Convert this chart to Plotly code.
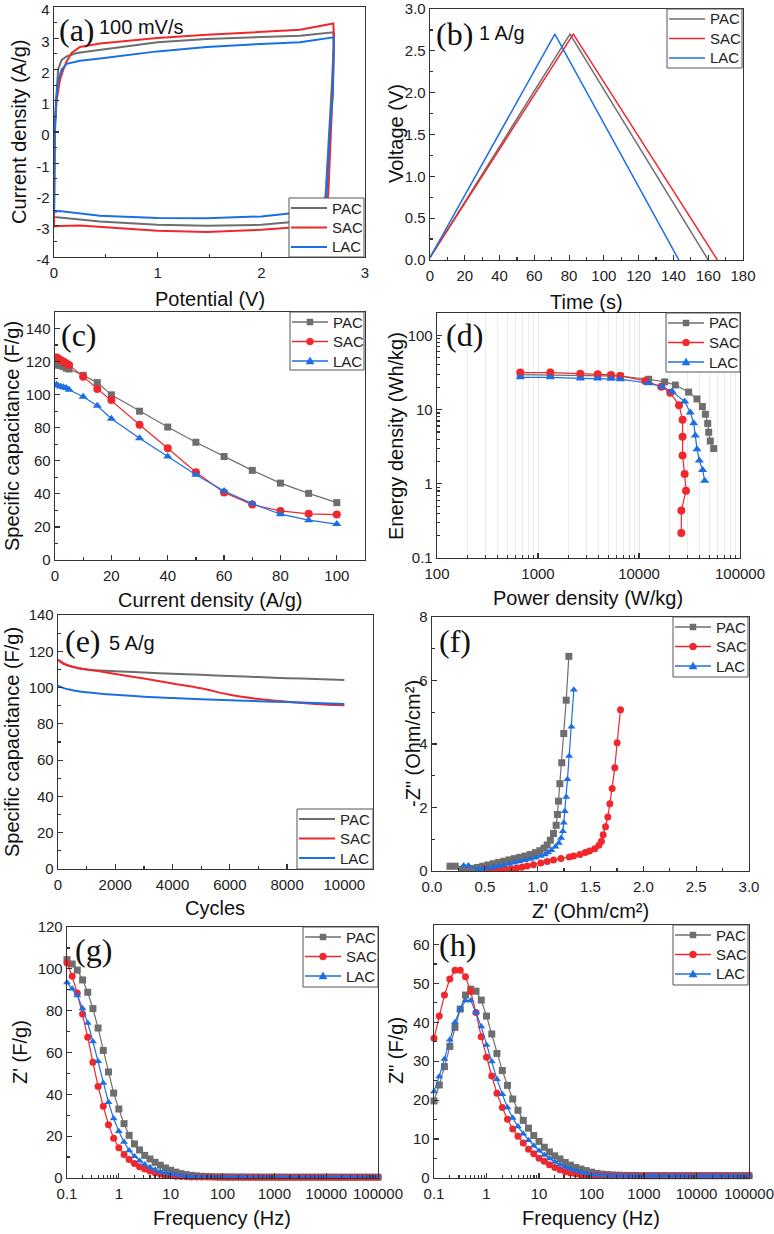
import plotly.graph_objects as go

W, H = 774, 1234
GRAY, RED, BLUE = "#6e6e6e", "#f0282d", "#1c6fe3"
NAMES = ["PAC", "SAC", "LAC"]

# ---------------- (a) CV at 100 mV/s ----------------
pac_cv_v = [0.0, 0.003, 0.01, 0.02, 0.04, 0.074, 0.122, 0.219, 0.444, 0.997, 1.473, 2.0, 2.373, 2.695,
            2.70, 2.68, 2.656, 2.62, 2.59, 2.55, 2.45, 2.27, 2.0, 1.473, 0.997, 0.444, 0.2, 0.05, 0.0]
pac_cv_i = [-2.72, -1.5, 0.0, 1.0, 2.0, 2.31, 2.42, 2.53, 2.63, 2.87, 2.98, 3.04, 3.08, 3.19,
            2.9, 1.5, 0.0, -2.0, -2.5, -2.75, -2.86, -2.89, -2.97, -3.0, -2.97, -2.86, -2.78, -2.73, -2.72]
sac_cv_v = [0.0, 0.002, 0.004, 0.026, 0.058, 0.09, 0.122, 0.17, 0.25, 0.444, 0.997, 1.473, 2.0, 2.373, 2.695,
            2.70, 2.69, 2.672, 2.646, 2.61, 2.56, 2.45, 2.27, 2.0, 1.473, 0.997, 0.444, 0.25, 0.05, 0.0]
sac_cv_i = [-3.02, -1.5, 0.0, 1.03, 1.67, 2.0, 2.26, 2.53, 2.72, 2.83, 3.01, 3.11, 3.19, 3.27, 3.47,
            3.1, 1.5, 0.0, -2.0, -2.7, -2.95, -3.03, -3.06, -3.13, -3.2, -3.16, -3.04, -2.99, -3.01, -3.02]
lac_cv_v = [0.0, 0.002, 0.006, 0.02, 0.042, 0.074, 0.122, 0.25, 0.444, 0.997, 1.473, 2.0, 2.373, 2.695,
            2.70, 2.69, 2.66, 2.63, 2.6, 2.55, 2.45, 2.27, 2.0, 1.473, 0.997, 0.444, 0.2, 0.05, 0.0]
lac_cv_i = [-2.56, -1.2, 0.0, 1.0, 1.67, 2.0, 2.18, 2.28, 2.35, 2.58, 2.72, 2.82, 2.87, 3.03,
            2.7, 1.2, 0.0, -2.0, -2.35, -2.55, -2.6, -2.61, -2.7, -2.76, -2.75, -2.68, -2.6, -2.53, -2.56]
a_ytick_vals = [-4, -3, -2, -1, 0, 1, 2, 3, 4]
a_ytick_text = ["-4", "-3", "-2", "-1", "0", "1", "2", "3", "4"]

# ---------------- (b) GCD at 1 A/g ----------------
pac_gcd_t = [0, 80.5, 160.0]
pac_gcd_v = [0.03, 2.7, 0.0]
sac_gcd_t = [0, 82.4, 165.3]
sac_gcd_v = [0.03, 2.7, 0.0]
lac_gcd_t = [0, 71.8, 143.1]
lac_gcd_v = [0.03, 2.7, 0.0]

# ---------------- (c) rate capability ----------------
rate_j = [0.5, 1, 2, 3, 4, 5, 10, 15, 20, 30, 40, 50, 60, 70, 80, 90, 100]
pac_rate = [118, 118, 117.5, 117, 116, 115.5, 111.7, 107.3, 99.9, 90, 80.4, 71.2, 62.6, 54.2, 46.5, 40.3, 34.7]
sac_rate = [122.5, 122, 121, 120, 119, 118, 110.9, 103.5, 96.7, 81.8, 67.6, 53.1, 40.9, 33.5, 29.7, 27.9, 27.5]
lac_rate = [106, 105.5, 105, 104.5, 104, 103, 98.7, 93.3, 85.4, 73.6, 62.6, 51.5, 41.7, 34.1, 27.7, 24.1, 21.7]

# ---------------- (d) Ragone ----------------
pac_p = [668, 1325, 2625, 3900, 5280, 6530, 12470, 17950, 22900, 31000, 37500, 42400, 45400, 47900, 49000, 50800, 54900]
pac_e = [29.5, 29.3, 29.0, 28.7, 28.4, 28.2, 25.6, 23.6, 21.4, 17.2, 13.9, 11.0, 8.66, 6.5, 4.95, 3.77, 2.98]
sac_p = [668, 1325, 2625, 3900, 5280, 6530, 11550, 16600, 20400, 24900, 27000, 27000, 27000, 28300, 29200, 26250, 26250]
sac_e = [31.5, 31.5, 30.4, 29.9, 29.3, 28.3, 24.3, 20.3, 16.9, 11.4, 7.3, 4.3, 2.4, 1.35, 0.805, 0.437, 0.217]
lac_p = [668, 1325, 2625, 3900, 5280, 6530, 12470, 16900, 21300, 28300, 32200, 34800, 36100, 37500, 39600, 42700, 44700]
lac_e = [27.2, 27.2, 26.3, 26.2, 26.0, 25.7, 22.6, 20.3, 17.5, 12.8, 9.1, 6.55, 4.46, 2.93, 2.06, 1.53, 1.1]
d_xtick_vals = [100, 1000, 10000, 100000]
d_xtick_text = ["100", "1000", "10000", "100000"]
d_ytick_vals = [0.1, 1, 10, 100]
d_ytick_text = ["0.1", "1", "10", "100"]

# ---------------- (e) cycling at 5 A/g ----------------
cycles = [0, 100, 200, 400, 700, 1000, 1500, 2000, 3000, 4000, 5000, 6000, 7000, 8000, 9000, 10000]
pac_cyc = [115.2, 114, 113, 111.8, 110.7, 110, 109.4, 109, 108.3, 107.6, 107, 106.4, 105.8, 105.2, 104.7, 104.2]
sac_cyc = [115.5, 114.3, 113.3, 112, 110.8, 110, 108.8, 107.5, 105.0, 102.3, 99.6, 96.0, 93.7, 92.2, 91.0, 90.2]
lac_cyc = [101, 100.3, 99.7, 98.9, 98, 97.4, 96.6, 96, 95, 94.2, 93.5, 93, 92.5, 92, 91.5, 91]

# ---------------- (f) Nyquist ----------------
pac_zr = [0.17, 0.22, 0.28, 0.33, 0.38, 0.43, 0.48, 0.53, 0.58, 0.63, 0.68, 0.73, 0.78, 0.83, 0.88, 0.93, 0.98,
          1.02, 1.06, 1.09, 1.12, 1.15, 1.175, 1.187, 1.197, 1.21, 1.228, 1.247, 1.27, 1.295]
pac_zi = [0.15, 0.15, 0.05, 0.06, 0.08, 0.11, 0.15, 0.19, 0.23, 0.27, 0.31, 0.35, 0.39, 0.43, 0.47, 0.52, 0.58,
          0.64, 0.72, 0.82, 0.97, 1.18, 1.44, 1.78, 2.2, 2.75, 3.41, 4.33, 5.38, 6.76]
sac_zr = [0.5, 0.55, 0.6, 0.65, 0.7, 0.75, 0.8, 0.85, 0.9, 0.96, 1.03, 1.09, 1.15, 1.22, 1.3, 1.34, 1.4, 1.45,
          1.49, 1.54, 1.58, 1.604, 1.62, 1.642, 1.664, 1.683, 1.705, 1.73, 1.752, 1.784]
sac_zi = [0.07, 0.05, 0.04, 0.04, 0.05, 0.07, 0.09, 0.12, 0.16, 0.2, 0.25, 0.3, 0.35, 0.39, 0.44, 0.47, 0.52, 0.58,
          0.63, 0.7, 0.81, 0.94, 1.14, 1.39, 1.7, 2.12, 2.6, 3.25, 4.04, 5.08]
lac_zr = [0.30, 0.345, 0.44, 0.48, 0.53, 0.58, 0.63, 0.68, 0.73, 0.78, 0.83, 0.88, 0.93, 0.98, 1.03, 1.07, 1.1,
          1.13, 1.168, 1.2, 1.222, 1.238, 1.247, 1.257, 1.27, 1.282, 1.298, 1.32, 1.342]
lac_zi = [0.17, 0.17, 0.06, 0.07, 0.09, 0.12, 0.15, 0.18, 0.22, 0.26, 0.3, 0.34, 0.38, 0.42, 0.47, 0.52, 0.58,
          0.65, 0.76, 0.88, 1.04, 1.25, 1.52, 1.88, 2.33, 2.89, 3.62, 4.54, 5.71]

# ---------------- (g), (h) capacitance vs frequency ----------------
freq = [0.1, 0.126, 0.158, 0.2, 0.251, 0.316, 0.398, 0.501, 0.631, 0.794,
        1.0, 1.26, 1.58, 2.0, 2.51, 3.16, 3.98, 5.01, 6.31, 7.94,
        10, 12.6, 15.8, 20, 25.1, 31.6, 39.8, 50.1, 63.1, 79.4,
        100, 126, 158, 200, 251, 316, 398, 501, 631, 794,
        1000, 1260, 1580, 2000, 2510, 3160, 3980, 5010, 6310, 7940,
        10000, 12600, 15800, 20000, 25100, 31600, 39800, 50100, 63100, 79400, 100000]
pac_g = [104.4, 102.3, 99.4, 94.7, 88.8, 81.0, 71.7, 61.0, 50.7, 40.6,
         33.0, 26.0, 20.4, 16.3, 13.4, 10.8, 9.1, 7.5, 6.1, 4.8,
         3.7, 2.8, 2.1, 1.6, 1.25, 1.0, 0.82, 0.7, 0.62, 0.56,
         0.52, 0.49, 0.47, 0.46, 0.45, 0.44, 0.43, 0.43, 0.42, 0.42,
         0.41, 0.41, 0.41, 0.4, 0.4, 0.4, 0.4, 0.4, 0.4, 0.4,
         0.4, 0.4, 0.4, 0.4, 0.4, 0.4, 0.4, 0.4, 0.4, 0.4, 0.4]
sac_g = [102.8, 96.4, 88.4, 78.4, 67.3, 55.3, 43.8, 34.3, 25.5, 19.0,
         14.5, 11.2, 8.8, 6.9, 5.4, 4.3, 3.3, 2.5, 1.9, 1.4,
         1.1, 0.85, 0.7, 0.6, 0.53, 0.48, 0.45, 0.43, 0.42, 0.41,
         0.4, 0.4, 0.4, 0.4, 0.4, 0.4, 0.4, 0.4, 0.4, 0.4,
         0.4, 0.4, 0.4, 0.4, 0.4, 0.4, 0.4, 0.4, 0.4, 0.4,
         0.4, 0.4, 0.4, 0.4, 0.4, 0.4, 0.4, 0.4, 0.4, 0.4, 0.4]
lac_g = [93.5, 90.5, 87.2, 81.0, 74.1, 65.3, 55.8, 45.4, 36.2, 28.4,
         22.3, 17.2, 13.2, 10.4, 8.3, 6.4, 5.1, 4.0, 3.0, 2.4,
         1.9, 1.5, 1.2, 0.95, 0.8, 0.68, 0.6, 0.55, 0.5, 0.47,
         0.45, 0.44, 0.43, 0.42, 0.42, 0.41, 0.41, 0.41, 0.4, 0.4,
         0.4, 0.4, 0.4, 0.4, 0.4, 0.4, 0.4, 0.4, 0.4, 0.4,
         0.4, 0.4, 0.4, 0.4, 0.4, 0.4, 0.4, 0.4, 0.4, 0.4, 0.4]
pac_h = [19.8, 23.9, 28.6, 33.8, 38.7, 43.4, 47.0, 48.5, 48.0, 45.7,
         41.6, 37.0, 32.0, 27.6, 23.8, 20.3, 17.4, 14.8, 12.8, 10.9,
         9.4, 7.9, 6.7, 5.7, 4.9, 4.0, 3.3, 2.7, 2.3, 1.9,
         1.5, 1.2, 1.0, 0.88, 0.78, 0.72, 0.68, 0.65, 0.63, 0.62,
         0.61, 0.6, 0.6, 0.6, 0.6, 0.6, 0.6, 0.6, 0.6, 0.6,
         0.6, 0.6, 0.6, 0.6, 0.6, 0.6, 0.6, 0.6, 0.6, 0.6, 0.6]
sac_h = [35.9, 41.6, 47.0, 51.1, 53.4, 53.4, 51.7, 47.9, 42.5, 36.3,
         31.0, 26.2, 21.8, 18.1, 15.1, 12.6, 10.7, 9.0, 7.4, 6.2,
         5.1, 4.3, 3.4, 2.7, 2.1, 1.6, 1.3, 1.0, 0.85, 0.75,
         0.7, 0.66, 0.64, 0.62, 0.61, 0.6, 0.6, 0.6, 0.6, 0.6,
         0.6, 0.6, 0.6, 0.6, 0.6, 0.6, 0.6, 0.6, 0.6, 0.6,
         0.6, 0.6, 0.6, 0.6, 0.6, 0.6, 0.6, 0.6, 0.6, 0.6, 0.6]
lac_h = [22.2, 26.1, 30.6, 35.5, 40.0, 43.4, 45.6, 45.6, 42.5, 38.9,
         34.2, 29.9, 25.4, 21.5, 18.1, 15.4, 13.2, 11.4, 9.7, 8.3,
         7.0, 5.9, 5.0, 4.1, 3.4, 2.8, 2.3, 1.9, 1.5, 1.1,
         0.9, 0.8, 0.72, 0.67, 0.64, 0.62, 0.61, 0.6, 0.6, 0.6,
         0.6, 0.6, 0.6, 0.6, 0.6, 0.6, 0.6, 0.6, 0.6, 0.6,
         0.6, 0.6, 0.6, 0.6, 0.6, 0.6, 0.6, 0.6, 0.6, 0.6, 0.6]
f_xtick_vals = [0.1, 1, 10, 100, 1000, 10000, 100000]
f_xtick_text = ["0.1", "1", "10", "100", "1000", "10000", "100000"]

# ---------------- layout helpers ----------------
SANS = "Liberation Sans, Arial, sans-serif"
SERIF = "Liberation Serif, Times New Roman, serif"

# panel boxes in pixels: (left, right, top, bottom)
boxes = {
    1: (54, 365, 7, 257),
    2: (430, 743, 9, 260),
    3: (55, 365, 312, 560),
    4: (437, 740, 313, 558),
    5: (58, 373, 615, 869),
    6: (432, 749, 617, 871),
    7: (67, 378, 927, 1178),
    8: (434, 749, 925, 1178),
}

def px(x):
    return x / W

def py(y):
    return 1 - y / H

fig = go.Figure()
COLORS = [GRAY, RED, BLUE]
SYMBOLS = ["square", "circle", "triangle-up"]
MSIZES = [7, 8, 8]

def axref(k):
    return ("x" if k == 1 else f"x{k}"), ("y" if k == 1 else f"y{k}")

def add_lines(k, xs, ys, width=2, shape="linear"):
    xa, ya = axref(k)
    for i in range(3):
        fig.add_trace(go.Scatter(
            x=xs[i], y=ys[i], mode="lines", name=NAMES[i], showlegend=False,
            line=dict(color=COLORS[i], width=width, shape=shape),
            xaxis=xa, yaxis=ya))

def add_markers(k, xs, ys, msize=None, clip=True):
    xa, ya = axref(k)
    for i in range(3):
        fig.add_trace(go.Scatter(
            x=xs[i], y=ys[i], mode="lines+markers", name=NAMES[i], showlegend=False,
            line=dict(color=COLORS[i], width=1.2),
            marker=dict(symbol=SYMBOLS[i], size=(msize or MSIZES)[i], color=COLORS[i]),
            cliponaxis=clip, xaxis=xa, yaxis=ya))

add_lines(1, [pac_cv_v, sac_cv_v, lac_cv_v], [pac_cv_i, sac_cv_i, lac_cv_i], width=2)
add_lines(2, [pac_gcd_t, sac_gcd_t, lac_gcd_t], [pac_gcd_v, sac_gcd_v, lac_gcd_v], width=1.5)
add_markers(3, [rate_j] * 3, [pac_rate, sac_rate, lac_rate])
add_markers(4, [pac_p, sac_p, lac_p], [pac_e, sac_e, lac_e])
add_lines(5, [cycles] * 3, [pac_cyc, sac_cyc, lac_cyc], width=2, shape="spline")
add_markers(6, [pac_zr, sac_zr, lac_zr], [pac_zi, sac_zi, lac_zi], msize=[7, 7, 7])
add_markers(7, [freq] * 3, [pac_g, sac_g, lac_g], msize=[7, 7, 7], clip=False)
add_markers(8, [freq] * 3, [pac_h, sac_h, lac_h], msize=[7, 7, 7], clip=False)

def axis_common():
    return dict(showline=True, mirror=True, linecolor="#333", linewidth=1.3,
                ticks="inside", ticklen=5, tickwidth=1.2, tickcolor="#333",
                showgrid=False, zeroline=False, automargin=False,
                ticklabeloverflow="allow",
                tickfont=dict(family=SANS, size=15, color="#222"))

layout = {}
axes_cfg = {
    1: (dict(range=[0, 3], dtick=1, minor=dict(dtick=0.5, ticks="inside", ticklen=3)),
        dict(range=[-4, 4], tickmode="array", tickvals=a_ytick_vals, ticktext=a_ytick_text,
             ticklabelshift=3,
             minor=dict(tickmode="linear", tick0=0, dtick=0.5, ticks="inside", ticklen=3))),
    2: (dict(range=[0, 180], dtick=20, minor=dict(dtick=10, ticks="inside", ticklen=3)),
        dict(range=[0, 3], dtick=0.5, tickformat=".1f", minor=dict(dtick=0.25, ticks="inside", ticklen=3))),
    3: (dict(range=[0, 110], dtick=20, minor=dict(dtick=10, ticks="inside", ticklen=3)),
        dict(range=[0, 150], dtick=20, minor=dict(dtick=10, ticks="inside", ticklen=3))),
    4: (dict(type="log", range=[2, 5], tickmode="array", tickvals=d_xtick_vals, ticktext=d_xtick_text,
             showgrid=True, gridcolor="#e4e4e4", gridwidth=1,
             minor=dict(dtick="D1", ticks="inside", ticklen=3, showgrid=True, gridcolor="#ececec")),
        dict(type="log", range=[-1, 2.301], tickmode="array", tickvals=d_ytick_vals, ticktext=d_ytick_text,
             minor=dict(dtick="D1", ticks="inside", ticklen=3))),
    5: (dict(range=[0, 11000], dtick=2000, tickformat="d", minor=dict(dtick=1000, ticks="inside", ticklen=3)),
        dict(range=[0, 140], dtick=20, minor=dict(dtick=10, ticks="inside", ticklen=3))),
    6: (dict(range=[0, 3], dtick=0.5, tickformat=".1f", minor=dict(dtick=0.25, ticks="inside", ticklen=3)),
        dict(range=[0, 8], dtick=2, minor=dict(dtick=1, ticks="inside", ticklen=3))),
    7: (dict(type="log", range=[-1, 5], tickmode="array", tickvals=f_xtick_vals, ticktext=f_xtick_text,
             minor=dict(dtick="D1", ticks="inside", ticklen=3)),
        dict(range=[0, 120], dtick=20, minor=dict(dtick=10, ticks="inside", ticklen=3))),
    8: (dict(type="log", range=[-1, 5], tickmode="array", tickvals=f_xtick_vals, ticktext=f_xtick_text,
             minor=dict(dtick="D1", ticks="inside", ticklen=3)),
        dict(range=[0, 65], dtick=10, minor=dict(dtick=5, ticks="inside", ticklen=3))),
}

for k, (l, r, t, b) in boxes.items():
    xs = "" if k == 1 else str(k)
    xa = axis_common()
    xa.update(axes_cfg[k][0])
    xa.update(domain=[px(l), px(r)], anchor=f"y{xs}", ticklabelstandoff=2)
    ya = axis_common()
    ya.update(axes_cfg[k][1])
    ya.update(domain=[py(b), py(t)], anchor=f"x{xs}")
    layout[f"xaxis{xs}"] = xa
    layout[f"yaxis{xs}"] = ya

shapes = []
ann = []

# legend boxes drawn by hand (left, top, right, bottom) in pixels; markers or not
legend_boxes = {
    1: (289, 198, 364, 257, False),
    2: (667, 9, 742, 68, False),
    3: (290, 312, 364, 370, True),
    4: (666, 313, 740, 372, True),
    5: (297, 809, 373, 869, False),
    6: (673, 617, 748, 677, True),
    7: (303, 927, 378, 987, True),
    8: (673, 925, 748, 985, True),
}
for k, (l, t, r, b, mk) in legend_boxes.items():
    shapes.append(dict(type="rect", xref="paper", yref="paper", layer="above",
                       x0=px(l), x1=px(r), y0=py(b), y1=py(t),
                       line=dict(color="#555", width=1), fillcolor="white"))
    for i in range(3):
        yc = t + 10 + 19.5 * i
        lw = 1.3 if mk else 2
        if k == 2:
            lw = 1.5
        shapes.append(dict(type="line", xref="paper", yref="paper", layer="above",
                           x0=px(l + 2), x1=px(l + 38), y0=py(yc), y1=py(yc),
                           line=dict(color=COLORS[i], width=lw)))
        if mk:
            cx = l + 20
            if i == 0:
                shapes.append(dict(type="rect", xref="paper", yref="paper", layer="above",
                                   x0=px(cx - 3), x1=px(cx + 3), y0=py(yc + 3), y1=py(yc - 3),
                                   line=dict(color=COLORS[i], width=0.5), fillcolor=COLORS[i]))
            elif i == 1:
                shapes.append(dict(type="circle", xref="paper", yref="paper", layer="above",
                                   x0=px(cx - 3.5), x1=px(cx + 3.5), y0=py(yc + 3.5), y1=py(yc - 3.5),
                                   line=dict(color=COLORS[i], width=0.5), fillcolor=COLORS[i]))
            else:
                path = (f"M {px(cx - 4):.5f},{py(yc + 3):.5f} L {px(cx + 4):.5f},{py(yc + 3):.5f} "
                        f"L {px(cx):.5f},{py(yc - 4):.5f} Z")
                shapes.append(dict(type="path", xref="paper", yref="paper", layer="above", path=path,
                                   line=dict(color=COLORS[i], width=0.5), fillcolor=COLORS[i]))
        ann.append(dict(text=NAMES[i], x=px(l + 41), y=py(yc), xref="paper", yref="paper",
                        xanchor="left", yanchor="middle", showarrow=False,
                        font=dict(family=SANS, size=15, color="#222")))

# axis titles
xtitles = [
    ("Potential (V)", 210, 299), ("Time (s)", 586, 302),
    ("Current density (A/g)", 210, 600), ("Power density (W/kg)", 588, 598),
    ("Cycles", 215, 908), ("Z' (Ohm/cm²)", 590, 911),
    ("Frequency (Hz)", 222, 1218), ("Frequency (Hz)", 591, 1218),
]
for txt, x, y in xtitles:
    ann.append(dict(text=txt, x=px(x), y=py(y), xref="paper", yref="paper",
                    xanchor="center", yanchor="middle", showarrow=False,
                    font=dict(family=SANS, size=20, color="#111")))
ytitles = [
    ("Current density (A/g)", 19, 132), ("Voltage (V)", 396, 134),
    ("Specific capacitance (F/g)", 12, 436), ("Energy density (Wh/kg)", 396, 436),
    ("Specific capacitance (F/g)", 12, 742), ('-Z" (Ohm/cm²)', 413, 744),
    ("Z' (F/g)", 20, 1052), ('Z" (F/g)', 396, 1051),
]
for txt, x, y in ytitles:
    ann.append(dict(text=txt, x=px(x), y=py(y), xref="paper", yref="paper",
                    xanchor="center", yanchor="middle", showarrow=False, textangle=-90,
                    font=dict(family=SANS, size=20, color="#111")))
# panel labels
labels = [("(a)", 57, 30), ("(b)", 434, 34), ("(c)", 59, 335), ("(d)", 444, 335),
          ("(e)", 63, 641), ("(f)", 437, 641), ("(g)", 73, 950), ("(h)", 437, 945)]
for txt, x, y in labels:
    ann.append(dict(text=txt, x=px(x), y=py(y), xref="paper", yref="paper",
                    xanchor="left", yanchor="middle", showarrow=False,
                    font=dict(family=SERIF, size=32, color="#111")))
conds = [("100 mV/s", 97, 27), ("1 A/g", 477, 33), ("5 A/g", 107, 643)]
for txt, x, y in conds:
    ann.append(dict(text=txt, x=px(x), y=py(y), xref="paper", yref="paper",
                    xanchor="left", yanchor="middle", showarrow=False,
                    font=dict(family=SANS, size=20, color="#111")))

fig.update_layout(**layout)
fig.update_layout(width=W, height=H, margin=dict(l=0, r=0, t=0, b=0, autoexpand=False),
                  paper_bgcolor="white", plot_bgcolor="white",
                  annotations=ann, shapes=shapes, showlegend=False)
fig.write_html("out.html", config={"displayModeBar": False, "staticPlot": True},
               post_script="document.body.style.margin='0px';document.body.style.overflow='hidden';")
